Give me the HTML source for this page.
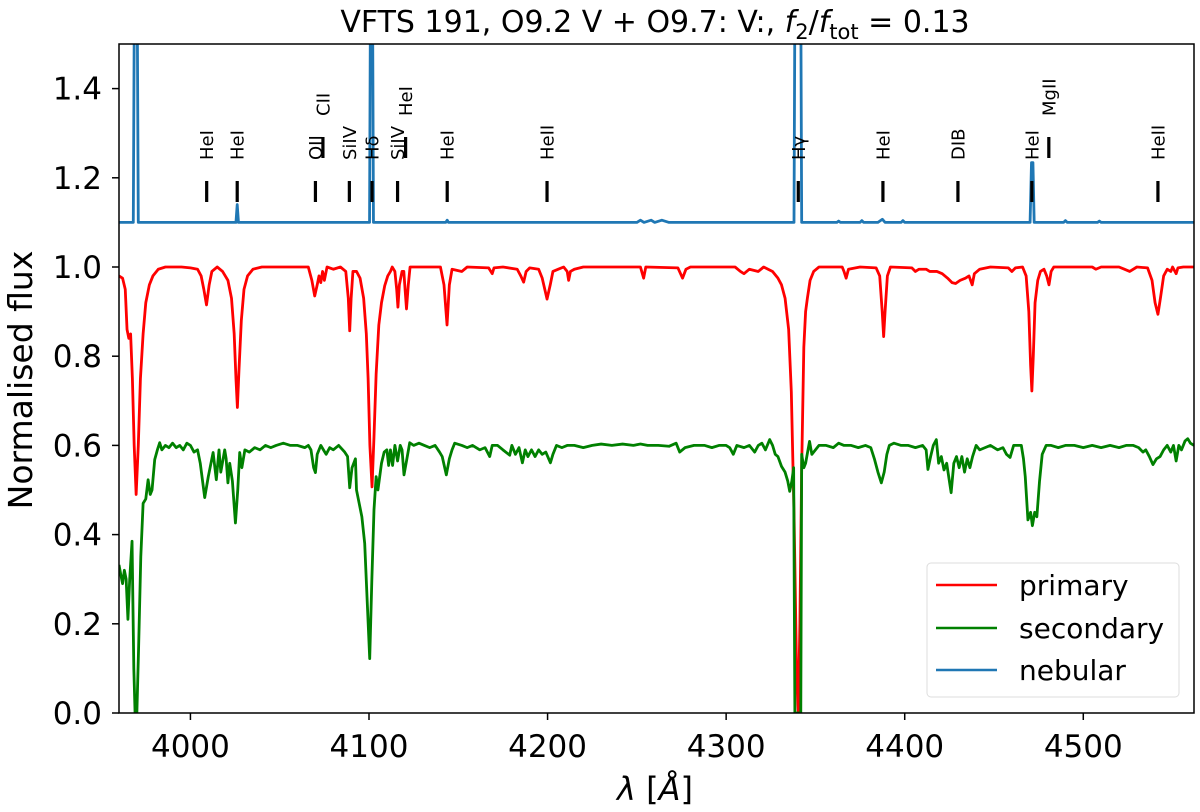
<!DOCTYPE html>
<html><head><meta charset="utf-8"><style>
html,body{margin:0;padding:0;background:#fff;}
svg{display:block;font-family:"DejaVu Sans","Liberation Sans",sans-serif;}
</style></head><body>
<svg id="chart" width="1200" height="812" viewBox="0 0 1200 812" xmlns="http://www.w3.org/2000/svg">
<defs><clipPath id="plotclip"><rect x="119" y="44" width="1075" height="669"/></clipPath></defs>
<text x="655" y="32" font-size="30" text-anchor="middle">VFTS 191, O9.2 V + O9.7: V:, <tspan font-style="italic">f</tspan><tspan font-size="21" dy="7">2</tspan><tspan dy="-7">/</tspan><tspan font-style="italic">f</tspan><tspan font-size="21" dy="7">tot</tspan><tspan dy="-7"> = 0.13</tspan></text>
<g id="series" clip-path="url(#plotclip)"></g>
<g id="markers"></g>
<rect x="119" y="44" width="1075" height="669" fill="none" stroke="#000" stroke-width="1.5"/>
<g id="axes"></g>
<text transform="translate(32,380) rotate(-90)" font-size="33" text-anchor="middle">Normalised flux</text>
<text x="655" y="800" font-size="32" text-anchor="middle"><tspan font-style="italic">λ</tspan> [<tspan font-style="italic">Å</tspan>]</text>
<g>
<rect x="927" y="563" width="252" height="134" rx="4" fill="#fff" stroke="#ddd" stroke-width="1"/>
<line x1="936" y1="585" x2="997" y2="585" stroke="red" stroke-width="2.5"/>
<text x="1019" y="595" font-size="28">primary</text>
<line x1="936" y1="628" x2="997" y2="628" stroke="green" stroke-width="2.5"/>
<text x="1019" y="638" font-size="28">secondary</text>
<line x1="936" y1="670" x2="997" y2="670" stroke="#1f77b4" stroke-width="2.5"/>
<text x="1019" y="680" font-size="28">nebular</text>
</g>
</svg>
<script>
const xTicks = [4000, 4100, 4200, 4300, 4400, 4500];
const yTicks = [0.0, 0.2, 0.4, 0.6, 0.8, 1.0, 1.2, 1.4];
const primary = [[3960,0.98],[3962,0.975],[3963.5,0.95],[3964.5,0.86],[3965.5,0.84],[3966.5,0.85],[3967.5,0.75],[3968.5,0.6],[3969.6,0.49],[3970.8,0.6],[3972,0.75],[3973.5,0.85],[3975,0.92],[3977,0.96],[3979,0.98],[3982,0.995],[3986,1.0],[3995,1.0],[4000,0.998],[4004,0.995],[4006,0.98],[4007.5,0.95],[4009,0.915],[4010.5,0.96],[4012,0.99],[4015,1.0],[4018,0.99],[4021,0.97],[4023,0.93],[4024.5,0.85],[4025.5,0.75],[4026.3,0.685],[4027.2,0.77],[4028.5,0.88],[4030,0.95],[4032,0.98],[4035,0.995],[4040,1.0],[4066,1.0],[4068,0.97],[4069.6,0.935],[4071,0.96],[4072,0.98],[4073,0.965],[4074,0.99],[4075,0.97],[4076.5,1.0],[4080,0.995],[4084,1.0],[4087,0.99],[4088.4,0.93],[4089.2,0.857],[4090,0.93],[4091,0.99],[4093,0.99],[4095,0.975],[4097,0.93],[4098.5,0.85],[4099.5,0.75],[4100.5,0.6],[4101.7,0.507],[4102.8,0.62],[4104,0.76],[4105.5,0.87],[4107,0.92],[4108.8,0.958],[4110.5,0.98],[4112,0.99],[4113,1.0],[4114.5,0.99],[4115.5,0.95],[4116.2,0.91],[4117,0.96],[4118.5,0.99],[4119.5,0.99],[4120.2,0.95],[4121,0.906],[4122,0.96],[4123,1.0],[4140,1.0],[4142,0.96],[4143.7,0.87],[4145,0.96],[4146.5,0.995],[4152,0.99],[4155,1.0],[4167,0.998],[4169,0.985],[4170,0.998],[4175,1.0],[4183,0.995],[4185,0.98],[4186.6,0.966],[4188,0.99],[4190,0.998],[4195,0.995],[4197,0.975],[4199.7,0.928],[4201.5,0.96],[4203,0.99],[4206,0.995],[4209,1.0],[4211,0.99],[4211.8,0.97],[4212.8,0.99],[4215,0.995],[4220,1.0],[4252,1.0],[4253.8,0.975],[4255,1.0],[4273,0.998],[4275.6,0.975],[4277.5,0.995],[4280,1.0],[4305,1.0],[4308,0.99],[4310,0.985],[4313,0.995],[4318,0.99],[4321,1.0],[4326,0.99],[4329,0.975],[4331,0.96],[4333,0.93],[4335,0.86],[4336.5,0.72],[4338,0.45],[4339.5,0.08],[4340.4,0.0],[4341.3,0.2],[4342.3,0.55],[4343.5,0.82],[4344.5,0.9],[4345.5,0.93],[4347,0.97],[4349,0.99],[4352,1.0],[4365,1.0],[4366,0.99],[4367.2,0.975],[4368.5,0.995],[4375,1.0],[4384,0.998],[4386,0.98],[4387.4,0.9],[4388.2,0.844],[4389,0.9],[4390.3,0.98],[4392,1.0],[4404,0.998],[4406,0.99],[4408,0.995],[4412,0.995],[4414,0.99],[4418,0.99],[4421,0.985],[4424,0.975],[4426.5,0.965],[4428.5,0.963],[4431,0.97],[4434,0.975],[4436,0.98],[4437.8,0.96],[4439,0.985],[4442,0.995],[4448,1.0],[4458,0.998],[4460,0.99],[4462,0.998],[4466,1.0],[4468,0.98],[4469.5,0.9],[4470.5,0.78],[4471.2,0.722],[4472,0.8],[4473,0.92],[4474.5,0.97],[4476,0.99],[4478,0.995],[4479.5,0.98],[4480.8,0.96],[4482,0.99],[4483.5,1.0],[4505,1.0],[4507,0.995],[4510,1.0],[4520,1.0],[4523,0.995],[4526,0.99],[4530,1.0],[4536,0.998],[4538.5,0.97],[4540.2,0.92],[4541.8,0.894],[4543.2,0.93],[4545,0.98],[4547,0.995],[4549,0.99],[4550,1.0],[4552,0.985],[4553,0.998],[4556,1.0],[4562,1.0]];
const secondary = [[3960,0.332],[3961,0.31],[3962,0.29],[3963,0.32],[3964,0.3],[3965,0.21],[3966,0.3],[3967.3,0.385],[3968.3,0.1],[3969,0.0],[3970,0.0],[3971,0.15],[3972.2,0.35],[3973.5,0.47],[3975,0.48],[3976.3,0.523],[3977.5,0.49],[3978.5,0.5],[3980,0.568],[3981.5,0.59],[3982.8,0.606],[3984,0.59],[3986,0.6],[3988,0.595],[3990,0.605],[3992,0.595],[3994,0.6],[3996,0.59],[3998,0.605],[4000,0.6],[4002,0.585],[4004,0.59],[4005.5,0.56],[4008,0.483],[4010,0.53],[4011.5,0.56],[4012.7,0.584],[4014.5,0.523],[4016,0.59],[4017,0.54],[4019.2,0.59],[4020,0.57],[4021,0.516],[4022,0.56],[4023.5,0.52],[4025.2,0.426],[4026.5,0.5],[4027.6,0.584],[4028.8,0.55],[4030.5,0.59],[4033,0.585],[4036,0.595],[4039,0.59],[4042,0.6],[4045,0.595],[4048,0.6],[4052,0.605],[4056,0.6],[4060,0.6],[4064,0.595],[4066,0.6],[4067.5,0.59],[4069,0.55],[4070,0.539],[4071,0.58],[4073,0.6],[4074.5,0.59],[4076,0.58],[4078,0.595],[4080,0.59],[4083,0.6],[4086.4,0.585],[4088,0.575],[4089.2,0.505],[4090.5,0.55],[4092.4,0.57],[4093,0.5],[4094.5,0.47],[4096,0.44],[4097.6,0.38],[4099,0.25],[4100.4,0.122],[4101.6,0.3],[4102.8,0.456],[4104,0.53],[4105,0.5],[4107,0.56],[4108.5,0.585],[4110,0.59],[4111,0.555],[4112,0.59],[4113.2,0.555],[4114.5,0.6],[4116,0.565],[4117.5,0.6],[4118.5,0.59],[4119.6,0.534],[4121,0.565],[4122.8,0.606],[4125,0.6],[4128,0.605],[4131,0.6],[4134,0.595],[4137,0.6],[4139.5,0.585],[4141,0.575],[4143.3,0.534],[4145,0.57],[4146.5,0.59],[4148,0.605],[4152,0.6],[4155,0.595],[4158,0.6],[4162,0.59],[4165,0.595],[4167.6,0.575],[4169,0.6],[4172,0.6],[4175,0.59],[4178.8,0.578],[4180,0.6],[4182,0.58],[4184,0.595],[4185.9,0.561],[4187.5,0.59],[4189,0.575],[4191,0.59],[4193,0.575],[4195,0.59],[4197,0.58],[4199,0.585],[4201.6,0.561],[4203,0.58],[4205,0.6],[4208,0.595],[4211,0.6],[4215,0.6],[4220,0.595],[4225,0.6],[4230,0.603],[4236,0.6],[4242,0.603],[4248,0.6],[4252,0.603],[4256,0.6],[4262,0.6],[4268,0.598],[4272,0.605],[4274,0.585],[4277,0.595],[4282,0.6],[4288,0.6],[4292,0.595],[4296,0.6],[4300,0.6],[4302,0.595],[4304,0.58],[4306,0.6],[4310,0.595],[4313,0.6],[4316,0.585],[4318,0.6],[4320,0.605],[4322,0.59],[4324.4,0.613],[4326,0.6],[4327.5,0.58],[4329,0.575],[4331,0.553],[4333,0.54],[4334.5,0.52],[4335.6,0.497],[4336.8,0.52],[4337.8,0.55],[4338.5,0.0],[4341.8,0.0],[4342.3,0.58],[4343.5,0.55],[4344.5,0.56],[4346.7,0.609],[4348,0.58],[4350,0.59],[4352,0.6],[4356,0.6],[4360,0.595],[4363,0.605],[4366,0.6],[4370,0.6],[4374,0.595],[4378,0.6],[4381,0.595],[4383,0.57],[4385,0.54],[4386.9,0.516],[4388.5,0.54],[4390,0.58],[4391.4,0.6],[4394,0.605],[4398,0.6],[4402,0.6],[4406,0.595],[4410,0.6],[4412,0.59],[4413,0.546],[4414.5,0.575],[4416,0.6],[4417.7,0.613],[4419,0.56],[4420.5,0.575],[4422,0.545],[4423.5,0.56],[4426,0.494],[4427.5,0.56],[4429,0.575],[4430.5,0.55],[4432,0.575],[4433.5,0.54],[4435,0.57],[4436.5,0.55],[4438,0.575],[4440,0.6],[4442,0.59],[4445,0.595],[4448,0.6],[4452,0.59],[4455,0.595],[4457,0.58],[4459,0.573],[4461,0.6],[4465.3,0.6],[4466.5,0.57],[4467.5,0.53],[4469,0.433],[4470.5,0.45],[4471.5,0.42],[4472.8,0.45],[4474,0.44],[4475.5,0.52],[4477,0.58],[4479.2,0.6],[4482,0.6],[4486,0.595],[4490,0.6],[4495,0.6],[4500,0.595],[4505,0.6],[4510,0.595],[4515,0.6],[4520,0.595],[4524,0.6],[4528,0.6],[4531,0.595],[4533.4,0.585],[4535,0.59],[4537,0.575],[4539,0.557],[4541,0.57],[4543,0.575],[4545,0.59],[4547,0.6],[4549,0.585],[4550.5,0.6],[4552,0.565],[4553.5,0.6],[4555,0.59],[4557,0.61],[4558.5,0.615],[4560,0.605],[4562,0.6]];
const nebular = [[3960,1.1],[3968,1.1],[3968.6,1.6],[3970.2,1.6],[3970.8,1.1],[4025.5,1.1],[4026.2,1.14],[4026.9,1.1],[4100.3,1.1],[4100.8,1.6],[4102,1.6],[4102.5,1.1],[4143,1.1],[4143.8,1.105],[4144.5,1.1],[4250,1.1],[4252,1.105],[4254,1.1],[4258,1.105],[4260,1.1],[4264,1.105],[4268,1.1],[4338,1.1],[4338.5,1.6],[4341.8,1.6],[4342.3,1.1],[4362,1.1],[4363,1.103],[4364,1.1],[4375,1.1],[4376,1.104],[4377,1.1],[4385,1.1],[4387.5,1.107],[4389,1.1],[4398,1.1],[4399,1.104],[4400,1.1],[4470.2,1.1],[4471,1.234],[4471.8,1.234],[4472.5,1.1],[4489,1.1],[4490,1.104],[4491,1.1],[4508,1.1],[4509,1.103],[4510,1.1],[4562,1.1]];
const lineNames = ["HeI","HeI","OII","CII","SiIV","Hδ","SiIV","HeI","HeI","HeII","Hγ","HeI","DIB","HeI","MgII","HeII"];
const lineWaves = [4009.1,4026.2,4070.0,4074.2,4089.0,4101.7,4116.0,4120.5,4143.8,4199.7,4340.4,4387.8,4429.8,4471.2,4480.7,4541.8];
const lineLevels = [0,0,0,1,0,0,0,1,0,0,0,0,0,0,1,0];

const X0=3960, X1=4562, Y0=0, Y1=1.5;
const L=119, R=1194, T=44, B=713;
function sx(v){return L+(v-X0)/(X1-X0)*(R-L);}
function sy(v){return B-(v-Y0)/(Y1-Y0)*(B-T);}
const NS="http://www.w3.org/2000/svg";
function mk(tag, attrs, parent){const e=document.createElementNS(NS,tag);for(const k in attrs)e.setAttribute(k,attrs[k]);parent.appendChild(e);return e;}
const axes=document.getElementById('axes');
xTicks.forEach(t=>{
  const l=mk('line',{x1:sx(t),x2:sx(t),y1:B,y2:B+7,stroke:'#000','stroke-width':1.5},axes);
  
  
  const tx=mk('text',{x:sx(t),y:B+44,'font-size':31,'text-anchor':'middle'},axes);
  
  
  tx.textContent=t;
});
yTicks.forEach(t=>{
  const l=mk('line',{x1:L-7,x2:L,y1:sy(t),y2:sy(t),stroke:'#000','stroke-width':1.5},axes);
  
  
  const tx=mk('text',{x:L-17,y:sy(t)+11,'font-size':31,'text-anchor':'end'},axes);
  
  
  tx.textContent=t.toFixed(1);
});
const sg=document.getElementById('series');
function draw(data,color,name){
  const d=data.map((p,i)=>(i?'L':'M')+sx(p[0]).toFixed(2)+','+sy(p[1]).toFixed(2)).join(' ');
  const p=mk('path',{d:d,fill:'none',stroke:color,'stroke-width':2.8,'stroke-linejoin':'round'},sg);
  
  
}
draw(nebular,'#1f77b4','nebular-line');
draw(primary,'red','primary-line');
draw(secondary,'green','secondary-line');
const mg=document.getElementById('markers');
lineNames.forEach((n,i)=>{
  const x=sx(lineWaves[i]);
  const up=lineLevels[i]===1;
  const m=mk('line',{x1:x,x2:x,y1:up?137:181,y2:up?158:202,stroke:'#000','stroke-width':3.2},mg);
  
  
  const by=up?116:160;
  const tx=mk('text',{transform:`translate(${x+6.5},${by}) rotate(-90)`,'font-size':18},mg);
  
  
  tx.textContent=n;
});
</script>
</body></html>
